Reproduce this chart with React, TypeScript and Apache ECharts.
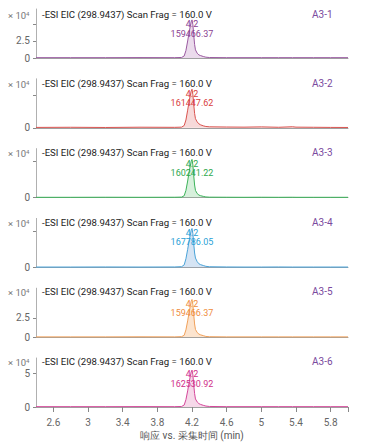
import React, { useEffect, useRef } from 'react';
import * as echarts from 'echarts';

// Retention times (min)
const times = [2.40, 2.80, 3.20, 3.60, 4.00, 4.08, 4.11, 4.13, 4.15, 4.17, 4.19, 4.20, 4.21, 4.22, 4.23, 4.24, 4.26, 4.28, 4.30, 4.33, 4.36, 4.40, 4.60, 4.80, 5.00, 5.20, 5.36, 5.40, 5.60, 5.80, 6.00];

// Intensities (× 10^4 counts)
const traceA31 = [0.05, 0.05, 0.05, 0.06, 0.05, 0.08, 0.3, 1.1, 2.5, 4.0, 5.3, 5.6, 4.9, 3.4, 2.0, 1.2, 0.7, 0.45, 0.35, 0.22, 0.12, 0.07, 0.05, 0.05, 0.05, 0.05, 0.05, 0.05, 0.05, 0.05, 0.05];
const traceA32 = [0.06, 0.08, 0.05, 0.09, 0.07, 0.1, 0.35, 1.2, 2.7, 4.3, 5.6, 5.9, 5.1, 3.6, 2.2, 1.4, 0.9, 0.6, 0.45, 0.3, 0.2, 0.15, 0.12, 0.1, 0.14, 0.08, 0.16, 0.1, 0.08, 0.06, 0.05];
const traceA33 = [0.04, 0.04, 0.05, 0.04, 0.05, 0.07, 0.26, 1.0, 2.3, 3.8, 5.0, 5.3, 4.55, 3.05, 1.75, 1.0, 0.56, 0.35, 0.26, 0.17, 0.09, 0.06, 0.05, 0.04, 0.05, 0.04, 0.05, 0.04, 0.04, 0.04, 0.04];
const traceA34 = [0.05, 0.05, 0.06, 0.05, 0.06, 0.1, 0.35, 1.2, 2.5, 3.9, 5.1, 5.4, 4.7, 3.3, 2.0, 1.3, 0.8, 0.5, 0.38, 0.26, 0.15, 0.09, 0.06, 0.05, 0.05, 0.06, 0.05, 0.05, 0.05, 0.05, 0.05];
const traceA35 = [0.04, 0.04, 0.04, 0.05, 0.04, 0.07, 0.25, 0.95, 2.1, 3.4, 4.6, 4.85, 4.2, 2.9, 1.7, 1.0, 0.6, 0.4, 0.3, 0.2, 0.1, 0.06, 0.04, 0.04, 0.04, 0.04, 0.04, 0.04, 0.04, 0.04, 0.04];
const traceA36 = [0.05, 0.05, 0.05, 0.06, 0.05, 0.08, 0.3, 1.1, 2.4, 3.9, 5.2, 5.5, 4.8, 3.3, 2.0, 1.2, 0.75, 0.5, 0.38, 0.25, 0.14, 0.08, 0.05, 0.05, 0.05, 0.05, 0.05, 0.05, 0.05, 0.05, 0.05];

const sampleNames = ['A3-1', 'A3-2', 'A3-3', 'A3-4', 'A3-5', 'A3-6'];
const peakRT = ['4.2', '4.2', '4.2', '4.2', '4.2', '4.2'];
const peakAreas = ['159466.37', '161447.62', '160241.22', '167786.05', '159466.37', '162530.92'];

const yMax = [7.2, 7.5, 6.8, 6.8, 6.3, 7.3];
const yTickValues = [[0, 2.5, 5], [0, 5], [0, 5], [0, 5], [0, 2.5], [0, 5]];
const yLabelValues = [[0, 2.5], [0], [0], [0], [0, 2.5], [0, 5]];
const xTickLabels = [2.6, 3, 3.4, 3.8, 4.2, 4.6, 5, 5.4, 5.8];
const xTickExtra = [6.0];

const traceTitle = '-ESI EIC (298.9437) Scan Frag = 160.0 V';
const xAxisTitle = '响应 vs. 采集时间 (min)';

const traces = [traceA31, traceA32, traceA33, traceA34, traceA35, traceA36];
const lineColors = ['#9a5aa0', '#d9534f', '#3cb35a', '#4aa3d8', '#f0a05a', '#d4479a'];
const fillColors = ['rgba(190,140,195,0.45)', 'rgba(225,120,120,0.4)', 'rgba(110,200,130,0.4)', 'rgba(120,170,220,0.45)', 'rgba(245,170,100,0.45)', 'rgba(225,130,185,0.45)'];
const labelColors = ['#8a3f92', '#d84040', '#2fa84f', '#2a9fd6', '#ef8c3c', '#d0308a'];

const FONT = 'Roboto, "Noto Sans", sans-serif';

export default function App() {
  const ref = useRef<HTMLDivElement>(null);
  useEffect(() => {
    const chart = echarts.init(ref.current!, null, { renderer: 'svg' });
    const grids: any[] = [];
    const xAxes: any[] = [];
    const yAxes: any[] = [];
    const series: any[] = [];
    const graphics: any[] = [];
    const n = traces.length;
    for (let i = 0; i < n; i++) {
      const top = 9 + 69.8 * i;
      const last = i === n - 1;
      grids.push({ left: 36, right: 18, top, height: 49 });
      xAxes.push({
        type: 'value', gridIndex: i, min: 2.4, max: 6.0,
        axisLine: { show: true, lineStyle: { color: '#a0a0a0', width: 1 } },
        axisTick: { show: last, length: 5, customValues: [...xTickLabels, ...xTickExtra], lineStyle: { color: '#888' } },
        axisLabel: { show: last, customValues: xTickLabels, color: '#666', fontSize: 10, fontFamily: FONT, margin: 10 },
        splitLine: { show: false },
        name: last ? xAxisTitle : '', nameLocation: 'middle', nameGap: 23,
        nameTextStyle: { color: '#555', fontSize: 10, fontFamily: FONT },
      });
      yAxes.push({
        type: 'value', gridIndex: i, min: 0, max: yMax[i],
        axisLine: { show: true, lineStyle: { color: '#b0b0b0', width: 1 } },
        axisTick: { show: true, length: 3, customValues: yTickValues[i], lineStyle: { color: '#888' } },
        axisLabel: { customValues: yLabelValues[i], color: '#666', fontSize: 10, fontFamily: FONT, margin: 6, formatter: (v: number) => String(v) },
        splitLine: { show: false },
      });
      series.push({
        type: 'line', xAxisIndex: i, yAxisIndex: i,
        data: times.map((t, k) => [t, traces[i][k]]),
        symbol: 'none', showSymbol: false,
        lineStyle: { color: lineColors[i], width: 1 },
        areaStyle: { color: fillColors[i] },
        z: 3,
        markPoint: {
          symbol: 'circle', symbolSize: 1,
          itemStyle: { color: 'rgba(0,0,0,0)' },
          data: [{
            type: 'max', valueDim: 'y',
            label: {
              show: true, position: 'bottom', distance: -1,
              formatter: peakRT[i] + '\n' + peakAreas[i],
              color: labelColors[i], fontSize: 9, lineHeight: 9.5, fontFamily: FONT, align: 'center',
            },
          }],
        },
      });
      const ty = 15 + 69.4 * i;
      graphics.push({
        type: 'text', left: 42, top: ty - 6,
        style: { text: traceTitle, fill: '#222', fontSize: 9.6, fontFamily: FONT },
      });
      graphics.push({
        type: 'text', left: 312, top: ty - 6,
        style: { text: sampleNames[i], fill: '#7a4a9e', fontSize: 10, fontFamily: FONT },
      });
      graphics.push({
        type: 'text', left: 8, top: ty - 5,
        style: {
          text: '× 10{s|4}', fill: '#777', fontSize: 9.5, fontFamily: FONT,
          rich: { s: { fontSize: 6, verticalAlign: 'top', fill: '#777', fontFamily: FONT } },
        },
      });
    }
    chart.setOption({
      animation: false,
      backgroundColor: '#fff',
      grid: grids,
      xAxis: xAxes,
      yAxis: yAxes,
      series,
      graphic: graphics,
    });
    return () => chart.dispose();
  }, []);
  return <div ref={ref} style={{ position: 'fixed', left: 0, top: 0, width: 366, height: 442 }} />;
}
